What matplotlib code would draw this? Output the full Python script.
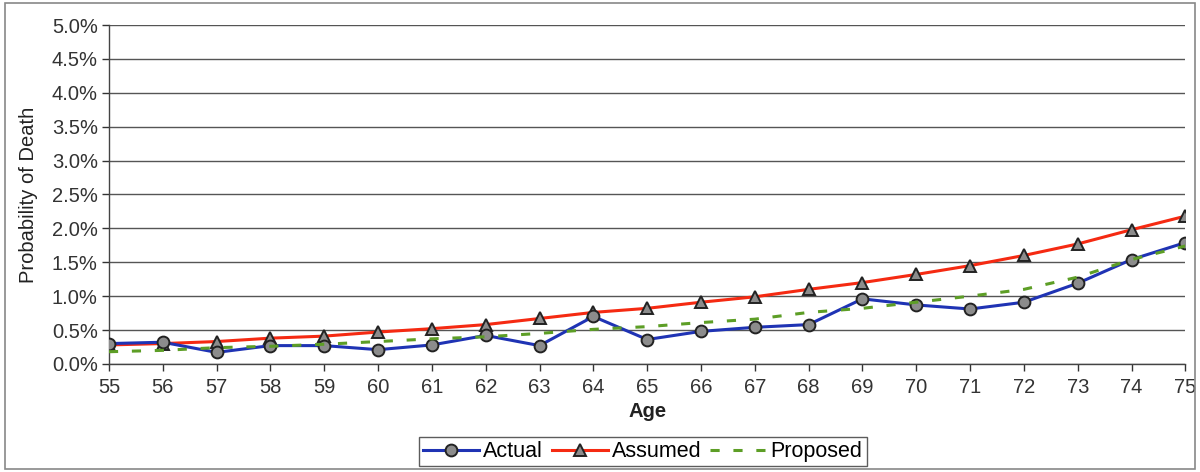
import matplotlib
matplotlib.use("Agg")
import matplotlib.pyplot as plt
from matplotlib.patches import Rectangle
from matplotlib.ticker import FuncFormatter, MultipleLocator

plt.rcParams['font.family'] = ['Liberation Sans', 'DejaVu Sans']

# --------------------------------------------------------
# Data (probability of death, %)
# --------------------------------------------------------
ages = list(range(55, 76))
actual = [0.30, 0.32, 0.17, 0.27, 0.27, 0.21, 0.28, 0.42, 0.27, 0.70, 0.36,
          0.48, 0.54, 0.58, 0.96, 0.87, 0.81, 0.91, 1.19, 1.54, 1.79]
assumed = [0.28, 0.30, 0.33, 0.38, 0.41, 0.47, 0.52, 0.58, 0.67, 0.76, 0.82,
           0.91, 0.99, 1.10, 1.20, 1.32, 1.45, 1.60, 1.77, 1.98, 2.18]
proposed = [0.18, 0.20, 0.24, 0.26, 0.29, 0.33, 0.37, 0.40, 0.45, 0.51, 0.55,
            0.61, 0.66, 0.76, 0.82, 0.91, 1.00, 1.10, 1.28, 1.54, 1.74]

fig = plt.figure(figsize=(12, 4.72), dpi=100)
fig.patch.set_facecolor('white')
ax = fig.add_axes([0.0908, 0.229, 0.897, 0.718])

# Outer frame around the whole chart
fig.patches.append(Rectangle((0.004, 0.006), 0.992, 0.988, transform=fig.transFigure,
                             fill=False, edgecolor='#888888', linewidth=1.2))

ax.plot(ages, actual, color='#1f33b4', linewidth=2.2, marker='o', markersize=8.5,
        markerfacecolor='#8c8c8c', markeredgecolor='#222222', markeredgewidth=1.4,
        label='Actual', zorder=4)
ax.plot(ages, assumed, color='#f52a12', linewidth=2.2, marker='^', markersize=8.5,
        markerfacecolor='#8c8c8c', markeredgecolor='#222222', markeredgewidth=1.4,
        label='Assumed', zorder=3)
ax.plot(ages, proposed, color='#5d9e26', linewidth=2.2, linestyle=(0, (3, 4.5)),
        label='Proposed', zorder=5)

ax.set_xlim(55, 75)
ax.set_ylim(0, 5.0)
ax.yaxis.set_major_locator(MultipleLocator(0.5))
ax.yaxis.set_major_formatter(FuncFormatter(lambda v, p: f"{v:.1f}%"))
ax.set_xticks(ages)
ax.grid(axis='y', color='#555555', linewidth=1.0)
ax.set_axisbelow(True)

for s in ['top', 'right']:
    ax.spines[s].set_visible(False)
ax.spines['left'].set_color('#444444')
ax.spines['bottom'].set_color('#444444')
ax.spines['left'].set_linewidth(1.0)
ax.spines['bottom'].set_linewidth(1.0)

ax.tick_params(axis='both', labelsize=14.5, colors='#333333', length=5, width=1.0)
ax.tick_params(axis='x', pad=5)
ax.tick_params(axis='y', pad=3)

ax.set_xlabel('Age', fontsize=14.5, fontweight='bold', color='#222222', labelpad=4)
ax.set_ylabel('Probability of Death', fontsize=14.5, color='#222222', labelpad=10)

leg = ax.legend(loc='upper center', bbox_to_anchor=(0.496, -0.215), ncol=3,
                frameon=True, fancybox=False, edgecolor='#333333', fontsize=15.5,
                handlelength=2.6, handletextpad=0.2, columnspacing=0.4,
                borderpad=0.2, borderaxespad=0)
leg.get_frame().set_linewidth(1.0)

fig.savefig('out.png', dpi=100, facecolor='white')
